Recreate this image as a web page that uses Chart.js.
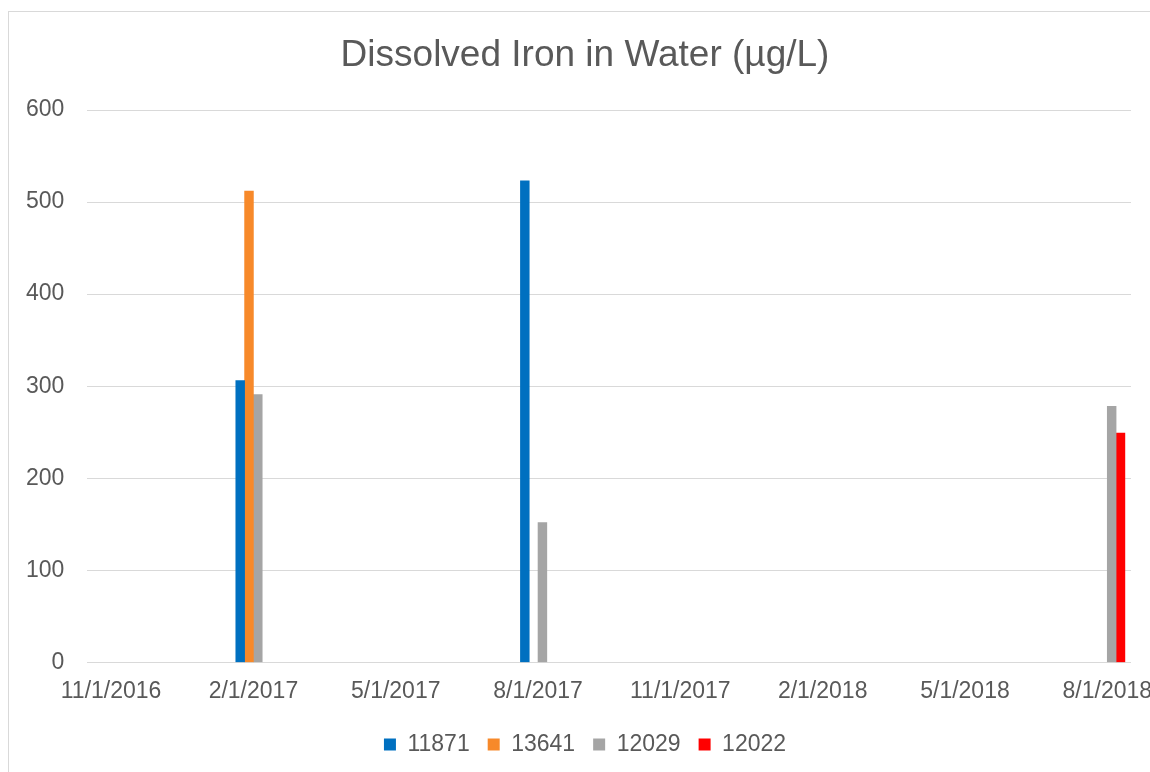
<!DOCTYPE html>
<html>
<head>
<meta charset="utf-8">
<script src="https://cdn.jsdelivr.net/npm/chart.js@4/dist/chart.umd.min.js"></script>
<style>
  html, body { margin: 0; padding: 0; background: #ffffff; overflow: hidden; width: 1150px; height: 772px; }
  #wrap { position: absolute; left: 0; top: 0; width: 1175px; height: 772px; }
  #frame { position: absolute; left: 8px; top: 11px; width: 1200px; height: 800px;
           border-left: 1px solid #D9D9D9; border-top: 1px solid #D9D9D9; box-sizing: border-box; pointer-events: none; }
  canvas { position: absolute; left: 0; top: 0; }
</style>
</head>
<body>
<div id="wrap">
  <canvas id="c" width="1175" height="772"></canvas>
  <div id="frame"></div>
</div>
<script>
// Monthly category slots of the date axis (11/1/2016 .. 8/1/2018)
const categories = [
  "11/1/2016","12/1/2016","1/1/2017","2/1/2017","3/1/2017","4/1/2017",
  "5/1/2017","6/1/2017","7/1/2017","8/1/2017","9/1/2017","10/1/2017",
  "11/1/2017","12/1/2017","1/1/2018","2/1/2018","3/1/2018","4/1/2018",
  "5/1/2018","6/1/2018","7/1/2018","8/1/2018"
];
// Sampling dates and measured values (µg/L)
const sampleDates = ["2/1/2017", "8/1/2017", "8/1/2018"];
const s11871 = [306, 523, null];
const s13641 = [512, null, null];
const s12029 = [291, 152, 278];
const s12022 = [null, null, 249];
const seriesNames = ["11871", "13641", "12029", "12022"];
const seriesColors = ["#0070C0", "#F7892A", "#A5A5A5", "#FF0000"];
const yTicks = [0, 100, 200, 300, 400, 500, 600];

function toSlots(vals) {
  return categories.map(c => {
    const i = sampleDates.indexOf(c);
    return i >= 0 ? vals[i] : null;
  });
}
const seriesValues = [s11871, s13641, s12029, s12022];

const FONT = "'Liberation Sans', Arial, sans-serif";
const TXT = "#595959";

new Chart(document.getElementById('c'), {
  type: 'bar',
  data: {
    labels: categories,
    datasets: seriesNames.map((n, k) => ({
      label: n,
      data: toSlots(seriesValues[k]),
      backgroundColor: seriesColors[k],
      borderWidth: 0,
      barThickness: 8.8
    }))
  },
  options: {
    responsive: false,
    devicePixelRatio: 1,
    animation: false,
    layout: { padding: { left: 3, right: 8, top: 0, bottom: 6 } },
    plugins: {
      title: {
        display: true,
        text: "Dissolved Iron in Water (µg/L)",
        color: TXT,
        font: { family: FONT, size: 37, weight: 'normal' },
        padding: { top: 33.5, bottom: 32.1 }
      },
      legend: {
        display: true,
        position: 'bottom',
        labels: {
          color: TXT,
          font: { family: FONT, size: 23 },
          boxWidth: 12,
          boxHeight: 12,
          padding: 18
        }
      },
      tooltip: { enabled: false }
    },
    scales: {
      x: {
        type: 'category',
        offset: true,
        grid: { display: false, drawTicks: false },
        border: { display: false },
        afterFit: axis => { axis.height -= 5; },
        ticks: {
          autoSkip: false,
          maxRotation: 0,
          minRotation: 0,
          color: TXT,
          font: { family: FONT, size: 23 },
          padding: 15,
          callback: function(v, i) { return i % 3 === 0 ? categories[i] : ''; }
        }
      },
      y: {
        min: 0,
        max: 600,
        afterBuildTicks: axis => { axis.ticks = yTicks.map(v => ({ value: v })); },
        grid: { color: '#D9D9D9', lineWidth: 1, drawTicks: false },
        border: { display: false },
        ticks: {
          color: TXT,
          font: { family: FONT, size: 23 },
          padding: 23
        }
      },
      yRightSpace: {
        type: 'linear',
        position: 'right',
        display: true,
        grid: { display: false, drawTicks: false },
        border: { display: false },
        ticks: { display: false },
        afterFit: axis => { axis.width = 36; }
      }
    }
  }
});
</script>
</body>
</html>
